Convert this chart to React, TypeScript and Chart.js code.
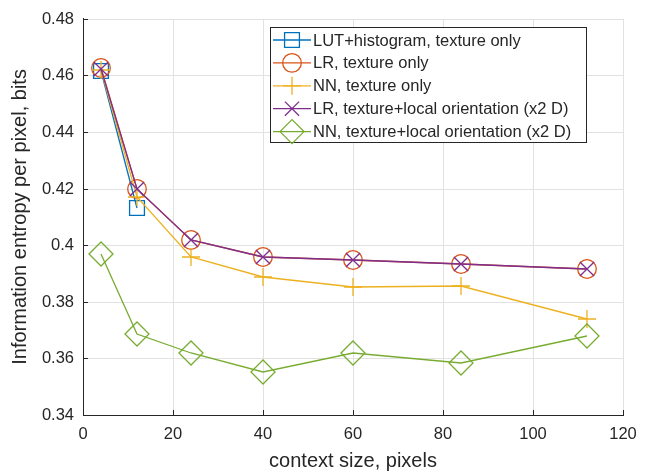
import React, { useEffect, useRef } from 'react';
import { Chart, registerables } from 'chart.js';
import { drawPoint } from 'chart.js/helpers';

Chart.register(...registerables);

// ---- data ----
const contextSizes = [4, 12, 24, 40, 60, 84, 112];
const lutHistogram = [0.4615, 0.4131];
const lrTexture = [0.4628, 0.42, 0.4017, 0.3958, 0.3948, 0.3934, 0.3916];
const nnTexture = [0.4618, 0.4172, 0.3959, 0.3886, 0.3854, 0.3856, 0.3739];
const lrOrient = [0.4623, 0.4198, 0.4017, 0.3957, 0.3947, 0.3933, 0.3916];
const nnOrient = [0.3969, 0.3686, 0.3619, 0.3552, 0.3619, 0.3584, 0.3678];
const xTicks = [0, 20, 40, 60, 80, 100, 120];
const yTicks = [0.34, 0.36, 0.38, 0.4, 0.42, 0.44, 0.46, 0.48];
const seriesLabels = [
  'LUT+histogram, texture only',
  'LR, texture only',
  'NN, texture only',
  'LR, texture+local orientation (x2 D)',
  'NN, texture+local orientation (x2 D)',
];
const xTitle = 'context size, pixels';
const yTitle = 'Information entropy per pixel, bits';

// ---- styles ----
const colors = ['#0072BD', '#D95319', '#EDB120', '#7E2F8E', '#77AC30'];
const pointStyles = ['rect', 'circle', 'cross', 'crossRot', 'rectRot'];
const pointRadii = [10.5, 9.3, 9, 10, 12];
const FONT = '"Liberation Sans", Arial, Helvetica, sans-serif';
const AXIS_COLOR = '#262626';
const GRID_COLOR = '#e2e2e2';

const toPoints = (ys: number[]) => ys.map((y, i) => ({ x: contextSizes[i], y }));
const seriesValues = [lutHistogram, lrTexture, nnTexture, lrOrient, nnOrient];

const matlabPlugin = {
  id: 'matlabDecor',
  afterDraw(chart: any) {
    const ctx: CanvasRenderingContext2D = chart.ctx;
    const { left, bottom } = chart.chartArea;
    const xs = chart.scales.x;
    const ys = chart.scales.y;
    ctx.save();
    // inward tick marks
    ctx.strokeStyle = AXIS_COLOR;
    ctx.lineWidth = 1;
    ctx.beginPath();
    xs.ticks.forEach((t: any) => {
      const px = Math.round(xs.getPixelForValue(t.value)) + 0.5;
      ctx.moveTo(px, bottom);
      ctx.lineTo(px, bottom - 5);
    });
    ys.ticks.forEach((t: any) => {
      const py = Math.round(ys.getPixelForValue(t.value)) + 0.5;
      ctx.moveTo(left, py);
      ctx.lineTo(left + 5, py);
    });
    ctx.stroke();

    // legend box
    const bx = 270.5, by = 27.5, bw = 316, bh = 115;
    ctx.fillStyle = '#ffffff';
    ctx.fillRect(bx, by, bw, bh);
    ctx.strokeStyle = AXIS_COLOR;
    ctx.lineWidth = 1;
    ctx.strokeRect(bx, by, bw, bh);
    const rowH = 22.9;
    const firstRow = 40;
    chart.data.datasets.forEach((ds: any, i: number) => {
      const y = firstRow + i * rowH;
      ctx.strokeStyle = ds.borderColor;
      ctx.lineWidth = ds.borderWidth;
      ctx.beginPath();
      ctx.moveTo(273, y);
      ctx.lineTo(311, y);
      ctx.stroke();
      ctx.fillStyle = 'rgba(0,0,0,0)';
      ctx.lineWidth = ds.pointBorderWidth;
      drawPoint(ctx, {
        pointStyle: ds.pointStyle,
        rotation: 0,
        radius: ds.pointRadius,
        borderWidth: ds.pointBorderWidth,
      } as any, 292, y);
      ctx.fillStyle = AXIS_COLOR;
      ctx.font = `16.5px ${FONT}`;
      ctx.textAlign = 'left';
      ctx.textBaseline = 'middle';
      ctx.fillText(ds.label, 313, y + 1);
    });
    ctx.restore();
  },
};

export default function App() {
  const ref = useRef<HTMLCanvasElement | null>(null);
  useEffect(() => {
    if (!ref.current) return;
    const datasets = seriesValues.map((vals, i) => ({
      label: seriesLabels[i],
      data: toPoints(vals),
      borderColor: colors[i],
      backgroundColor: 'rgba(0,0,0,0)',
      borderWidth: 1.3,
      pointStyle: pointStyles[i],
      pointRadius: pointRadii[i],
      pointHoverRadius: pointRadii[i],
      pointBorderColor: colors[i],
      pointBackgroundColor: 'rgba(0,0,0,0)',
      pointBorderWidth: 1.3,
      fill: false,
      tension: 0,
      order: seriesValues.length - i,
    }));
    const chart = new Chart(ref.current, {
      type: 'line',
      data: { datasets },
      plugins: [matlabPlugin],
      options: {
        animation: false,
        responsive: false,
        events: [],
        layout: { padding: { top: 13, right: 27, bottom: 0, left: 0 } },
        plugins: { legend: { display: false }, tooltip: { enabled: false } },
        scales: {
          x: {
            type: 'linear',
            min: 0,
            max: 120,
            alignToPixels: true,
            afterBuildTicks: (s: any) => { s.ticks = xTicks.map((v) => ({ value: v })); },
            afterFit: (s: any) => { s.height = 60; },
            grid: { color: GRID_COLOR, drawTicks: false, lineWidth: 1 },
            border: { display: true, color: AXIS_COLOR, width: 1 },
            ticks: {
              color: AXIS_COLOR,
              padding: 10,
              maxRotation: 0,
              font: { family: FONT, size: 16.5 },
              callback: (v: any) => String(v),
            },
            title: {
              display: true,
              text: xTitle,
              color: AXIS_COLOR,
              font: { family: FONT, size: 20 },
              padding: { top: 0, bottom: 2 },
            },
          },
          y: {
            type: 'linear',
            min: 0.34,
            max: 0.48,
            alignToPixels: true,
            afterBuildTicks: (s: any) => { s.ticks = yTicks.map((v) => ({ value: v })); },
            afterFit: (s: any) => { s.width = 83; },
            grid: { color: GRID_COLOR, drawTicks: false, lineWidth: 1 },
            border: { display: true, color: AXIS_COLOR, width: 1 },
            ticks: {
              color: AXIS_COLOR,
              padding: 9,
              font: { family: FONT, size: 16.5 },
              callback: (v: any) => String(parseFloat(Number(v).toFixed(2))),
            },
            title: {
              display: true,
              text: yTitle,
              color: AXIS_COLOR,
              font: { family: FONT, size: 20 },
              padding: { top: 8, bottom: 0 },
            },
          },
        },
      } as any,
    });
    return () => chart.destroy();
  }, []);
  return (
    <div style={{ position: 'absolute', left: 0, top: 0, width: 650, height: 475, background: '#fff' }}>
      <canvas ref={ref} width={650} height={475} />
    </div>
  );
}
